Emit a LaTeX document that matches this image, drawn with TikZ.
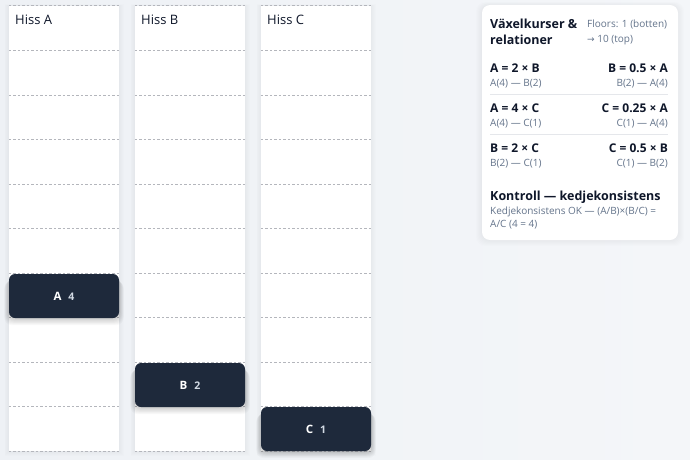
\documentclass[tikz,border=0pt]{standalone}
\usepackage{fontspec}
\setmainfont{Open Sans}
\newfontfamily\symfont{DejaVu Sans}
\definecolor{bg}{RGB}{238,241,245}
\definecolor{bgr}{RGB}{244,246,249}
\definecolor{carc}{RGB}{30,41,59}
\definecolor{gridc}{RGB}{180,182,188}
\definecolor{ink}{RGB}{15,23,42}
\definecolor{muted}{RGB}{100,116,139}
\definecolor{sepc}{RGB}{229,231,235}
\definecolor{numc}{RGB}{210,218,228}
\tikzset{
  shaft/.style={fill=white, draw=none, minimum width=110pt, minimum height=445pt, inner sep=0pt},
  carbox/.style={fill=carc, draw=none, rounded corners=6pt, minimum width=110pt, minimum height=44pt, inner sep=0pt, text=white, font=\fontsize{11.5}{13}\selectfont\bfseries},
  hiss/.style={anchor=base west, inner sep=0pt, text=ink, font=\fontsize{13}{15}\selectfont},
  floorline/.style={gridc, line width=0.6pt, dash pattern=on 2.5pt off 2pt},
  head/.style={anchor=base west, inner sep=0pt, text=ink, font=\fontsize{12.5}{15}\selectfont\bfseries},
  rel/.style={inner sep=0pt, text=ink, font=\fontsize{12}{14}\selectfont\bfseries},
  small/.style={inner sep=0pt, text=muted, font=\fontsize{10}{12}\selectfont},
  sepline/.style={sepc, line width=0.8pt}
}
\begin{document}
\begin{tikzpicture}[x=1pt,y=-1pt]
\useasboundingbox (0,0) rectangle (690,460);
\shade[left color=bg, right color=bgr] (0,0) rectangle (690,460);
% shafts
\foreach \i/\n in {0/A,1/B,2/C}{
  \pgfmathsetmacro{\xc}{64+126*\i}
  \foreach \s in {1,...,5}{
    \fill[black, opacity=0.007] (\xc-55-\s*0.9,6-\s*0.3) rectangle (\xc+55+\s*0.9,451+\s*0.9);
  }
  \node[shaft] (sh\n) at (\xc,228.5) {};
  \foreach \k in {0,...,10}{
    \draw[floorline] ([yshift=-\k*44.5pt]sh\n.north west) -- ([yshift=-\k*44.5pt]sh\n.north east);
  }
  \node[hiss] (lab\n) at (\xc-49,25) {Hiss \n};
}
% car shadows
\foreach \xc/\y in {64/296,190/385,316/429}{
  \foreach \s in {1,...,8}{
    \fill[black, opacity=0.022, rounded corners=8pt] (\xc-55-\s*0.6,\y-20+\s*0.6) rectangle (\xc+55+\s*0.6,\y+22+\s*0.9);
  }
}
\node[carbox] (carA) at (64,296) {A\hspace{7pt}\textcolor{numc}{\fontsize{10.5}{12}\selectfont 4}};
\node[carbox] (carB) at (190,385) {B\hspace{7pt}\textcolor{numc}{\fontsize{10.5}{12}\selectfont 2}};
\node[carbox] (carC) at (316,429) {C\hspace{7pt}\textcolor{numc}{\fontsize{10.5}{12}\selectfont 1}};
% panel
\foreach \s in {1,...,6}{
  \fill[black, opacity=0.008, rounded corners=9pt] (482-\s,5-\s*0.5) rectangle (678+\s,240+\s);
}
\node[fill=white, rounded corners=8pt, minimum width=196pt, minimum height=235pt, inner sep=0pt] (panel) at (580,122.5) {};
\node[head] (h1) at (490,28.3) {Växelkurser \&};
\node[head] (h2) at (490,45) {relationer};
\node[small, anchor=base west] (f1) at (587,27.7) {Floors: 1 (botten)};
\node[small, anchor=base west] (f2) at (587,42.7) {{\symfont\fontsize{9}{11}\selectfont →} 10 (top)};
% rows
\node[rel, anchor=base west] (r1l) at (490,72.3) {A = 2 × B};
\node[small, anchor=base west] (r1ls) at (490,86.7) {A(4) — B(2)};
\node[rel, anchor=base east] (r1r) at (668,72.3) {B = 0.5 × A};
\node[small, anchor=base east] (r1rs) at (668,86.7) {B(2) — A(4)};
\draw[sepline] (490,94.3) -- (668,94.3);
\node[rel, anchor=base west] (r2l) at (490,112.3) {A = 4 × C};
\node[small, anchor=base west] (r2ls) at (490,126.7) {A(4) — C(1)};
\node[rel, anchor=base east] (r2r) at (668,112.3) {C = 0.25 × A};
\node[small, anchor=base east] (r2rs) at (668,126.7) {C(1) — A(4)};
\draw[sepline] (490,134.3) -- (668,134.3);
\node[rel, anchor=base west] (r3l) at (490,152.3) {B = 2 × C};
\node[small, anchor=base west] (r3ls) at (490,166.7) {B(2) — C(1)};
\node[rel, anchor=base east] (r3r) at (668,152.3) {C = 0.5 × B};
\node[small, anchor=base east] (r3rs) at (668,166.7) {C(1) — B(2)};
% control
\node[head] (k1) at (490,200) {Kontroll — kedjekonsistens};
\node[small, anchor=base west] (k2) at (490,214.3) {Kedjekonsistens OK — (A/B)×(B/C) =};
\node[small, anchor=base west] (k3) at (490,227.7) {A/C (4 = 4)};
\end{tikzpicture}
\end{document}
